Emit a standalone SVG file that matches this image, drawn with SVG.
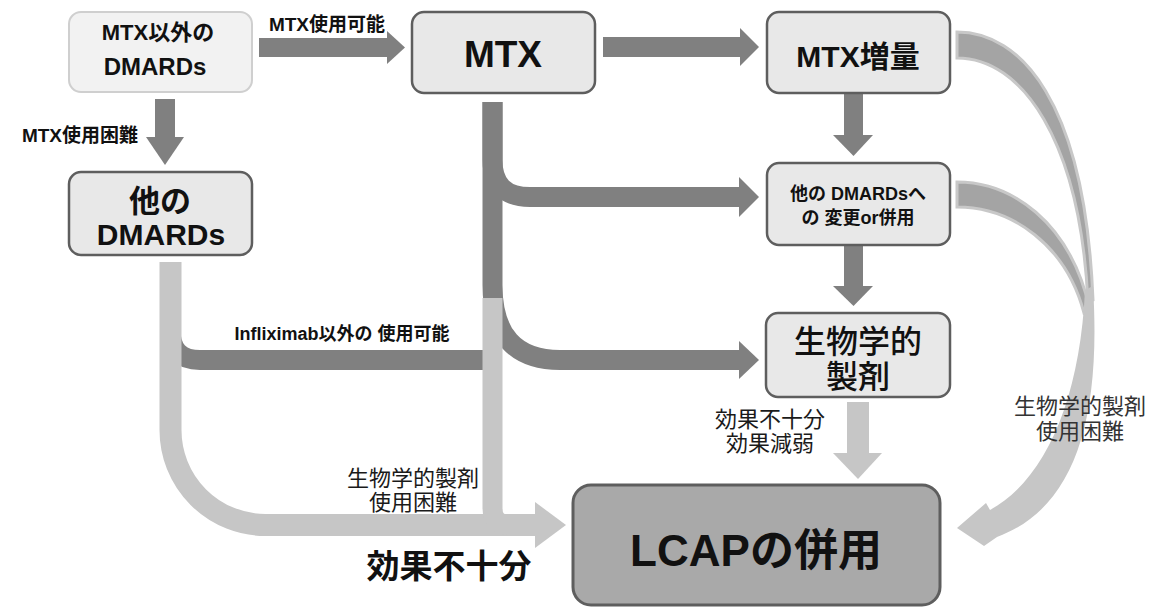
<svg xmlns="http://www.w3.org/2000/svg" width="1153" height="608" viewBox="0 0 1153 608">
<style>
text{font-family:"Liberation Sans","Noto Sans CJK JP",sans-serif;fill:#111;text-anchor:middle}
.b{font-weight:bold}
.node{fill:#e8e8e8;stroke:#5e5e5e;stroke-width:2.5}
.dk{fill:none;stroke:#808080;stroke-width:20}
.dkh{fill:#808080}
.lt{fill:none;stroke:#c6c6c6;stroke-width:22}
.lth{fill:#c6c6c6}
.band{fill:#a4a4a4;stroke:#c8c8c8;stroke-width:3}
.lbl{font-size:22px;fill:#1a1a1a}
</style>
<rect width="1153" height="608" fill="#ffffff"/>
<g id="connectors">
  <!-- box1 -> MTX -->
  <rect class="dkh" x="259" y="38" width="130" height="19"/>
  <polygon class="dkh" points="387,31 405,47.5 387,64"/>
  <!-- box1 -> other DMARDs -->
  <rect class="dkh" x="155" y="99" width="20" height="39"/>
  <polygon class="dkh" points="146,137 165,165 184,137"/>
  <!-- MTX -> MTX increase -->
  <rect class="dkh" x="603" y="37" width="139" height="20"/>
  <polygon class="dkh" points="740,28 759,47 740,66"/>
  <!-- MTX increase -> change -->
  <rect class="dkh" x="844" y="93" width="19" height="43"/>
  <polygon class="dkh" points="833,135 853.5,156 873,135"/>
  <!-- change -> biologics -->
  <rect class="dkh" x="844" y="245" width="19" height="42"/>
  <polygon class="dkh" points="833,286 853.5,306 873,286"/>
  <!-- MTX branches -->
  <path class="dk" d="M492.5 102 V160 Q492.5 197 530 197 H742"/>
  <polygon class="dkh" points="739,177 759,197 739,217"/>
  <path class="dk" d="M492.5 102 V285 Q492.5 360 560 360 H742"/>
  <polygon class="dkh" points="739,341 759,360 739,379"/>
  <!-- Infliximab branch -->
  <path class="dk" d="M170.5 300 V330 Q170.5 360 200 360 H500"/>
  <!-- light bars -->
  <path class="lt" d="M170.5 262 V430 A95 95 0 0 0 265.5 525 H538"/>
  <path class="lt" style="stroke-width:20" d="M492.5 298 V508 Q492.5 525 510 525"/>
  <polygon class="lth" points="535,502 566,525 535,548"/>
  <!-- biologics -> LCAP -->
  <rect class="lth" x="847" y="402" width="22" height="53"/>
  <polygon class="lth" points="833,453 858,479 882,453"/>
  <!-- right curved bands -->
  <path class="band" d="M957 32 C1020 32 1085 100 1093 300 L1088 302 C1080 140 1022 58 957 58 Z"/>
  <path class="band" d="M957 182 C1010 182 1070 220 1090 310 L1084 313 C1066 245 1012 207 957 207 Z"/>
  <path class="lth" d="M1085 290 L1093 286 C1102 430 1070 510 997 537 L984 546 L957 528 L986 503 L990 510 C1045 480 1080 400 1085 290 Z"/>
</g>
<g id="labels">
  <text class="b" x="327" y="31" style="font-size:19px">MTX使用可能</text>
  <text class="b" x="80" y="142" style="font-size:19px">MTX使用困難</text>
  <text class="b" x="342" y="340" style="font-size:18px">Infliximab以外の 使用可能</text>
  <text class="lbl" x="413" y="486">生物学的製剤</text>
  <text class="lbl" x="413" y="510">使用困難</text>
  <text class="b" x="449" y="578" style="font-size:33px">効果不十分</text>
  <text class="lbl" x="770" y="427">効果不十分</text>
  <text class="lbl" x="770" y="451">効果減弱</text>
  <text class="lbl" x="1080" y="414" style="fill:#333">生物学的製剤</text>
  <text class="lbl" x="1080" y="439" style="fill:#333">使用困難</text>
</g>
<g id="node-other-than-mtx">
  <rect x="69" y="12" width="183" height="80" rx="12" fill="#f2f2f2" stroke="#cfcfcf" stroke-width="2"/>
  <text class="b" x="158" y="40" style="font-size:22px">MTX以外の</text>
  <text class="b" x="155" y="75" style="font-size:24px">DMARDs</text>
</g>
<g id="node-other-dmards">
  <rect class="node" x="69" y="172" width="183" height="83" rx="12"/>
  <text class="b" x="160" y="212" style="font-size:31px">他の</text>
  <text class="b" x="161" y="245" style="font-size:30px">DMARDs</text>
</g>
<g id="node-mtx">
  <rect class="node" x="412" y="12" width="183" height="81" rx="12"/>
  <text class="b" x="503" y="67" style="font-size:37px">MTX</text>
</g>
<g id="node-mtx-increase">
  <rect class="node" x="767" y="12" width="183" height="81" rx="12"/>
  <text class="b" x="858" y="67" style="font-size:30px">MTX増量</text>
</g>
<g id="node-change-dmards">
  <rect class="node" x="767" y="163" width="183" height="82" rx="12"/>
  <text class="b" x="858" y="200" style="font-size:18px">他の DMARDsへ</text>
  <text class="b" x="858" y="224" style="font-size:18px">の 変更or併用</text>
</g>
<g id="node-biologics">
  <rect class="node" x="766" y="313" width="184" height="84" rx="12"/>
  <text x="858" y="353" style="font-size:32px;font-weight:500">生物学的</text>
  <text x="858" y="388" style="font-size:32px;font-weight:500">製剤</text>
</g>
<g id="node-lcap">
  <rect x="573" y="485" width="367" height="120" rx="18" fill="#a9a9a9" stroke="#5e5e5e" stroke-width="3"/>
  <text class="b" x="756" y="566" style="font-size:44px">LCAPの併用</text>
</g>
</svg>
